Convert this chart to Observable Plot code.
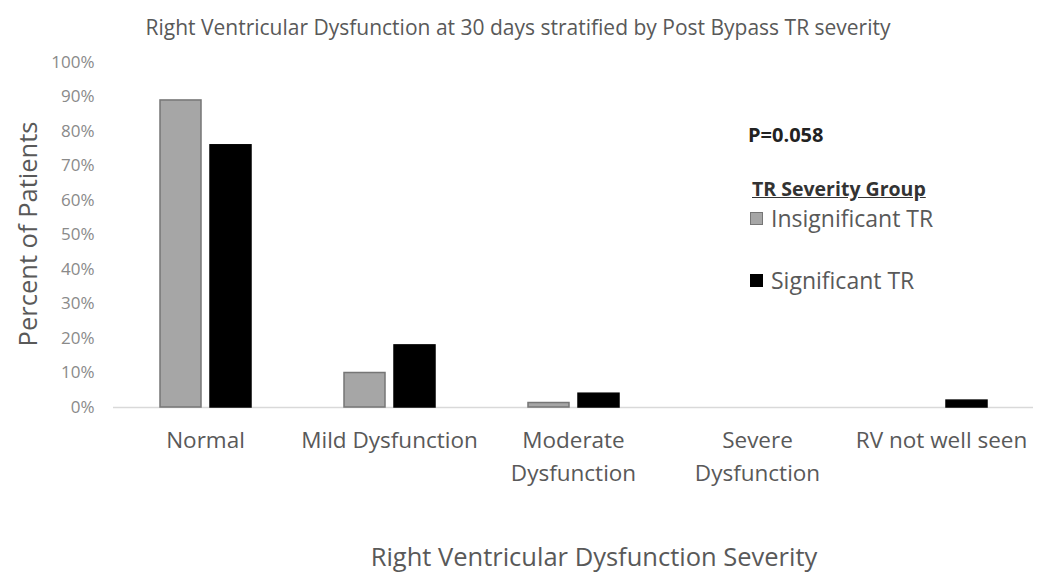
<!DOCTYPE html>
<html>
<head>
<meta charset="utf-8">
<script src="https://cdn.jsdelivr.net/npm/d3@7"></script>
<script src="https://cdn.jsdelivr.net/npm/@observablehq/plot@0.6"></script>
<style>
  html, body { margin: 0; padding: 0; background: #fff; }
  #wrap { position: relative; width: 1050px; height: 585px; font-family: "Open Sans", Lato, sans-serif; }
  #wrap svg { position: absolute; left: 0; top: 0; }
  .t { position: absolute; white-space: nowrap; color: #595959; line-height: 1; }
  #title { left: 0; width: 1036px; top: 17px; text-align: center; font-size: 21px; }
  #ylab { left: 28px; top: 234px; font-size: 25.5px; transform: translate(-50%, -50%) rotate(-90deg); }
  #xlab { left: 0; width: 1188px; top: 544px; text-align: center; font-size: 25.5px; }
  #pval { left: 748px; top: 125px; font-size: 20px; font-weight: bold; color: #222; }
  #lgtitle { left: 752px; top: 179px; font-size: 19.5px; font-weight: bold; color: #333; text-decoration: underline; }
  .lg { position: absolute; left: 750px; display: flex; align-items: center; font-size: 23px; color: #595959; white-space: nowrap; line-height: 1; }
  .sw { width: 13px; height: 13px; margin-right: 8px; box-sizing: border-box; }
</style>
</head>
<body>
<div id="wrap"></div>
<script>
const categories = ["Normal", "Mild Dysfunction", "Moderate\nDysfunction", "Severe\nDysfunction", "RV not well seen"];
const groups = ["Insignificant TR", "Significant TR"];
const insignificantTR = [0.89, 0.10, 0.013, 0, 0];
const significantTR = [0.76, 0.18, 0.04, 0, 0.02];
const yTicks = [0, 0.1, 0.2, 0.3, 0.4, 0.5, 0.6, 0.7, 0.8, 0.9, 1.0];
const groupFill = ["#a6a6a6", "#000000"];
const groupStroke = ["#767676", "#000000"];
const titleText = "Right Ventricular Dysfunction at 30 days stratified by Post Bypass TR severity";
const yLabel = "Percent of Patients";
const xLabel = "Right Ventricular Dysfunction Severity";
const pValue = "P=0.058";
const legendTitle = "TR Severity Group";

const rows = [];
categories.forEach((c, i) => {
  rows.push({category: c, group: groups[0], value: insignificantTR[i]});
  rows.push({category: c, group: groups[1], value: significantTR[i]});
});

const chart = Plot.plot({
  width: 1050,
  height: 585,
  marginTop: 62,
  marginBottom: 178,
  marginLeft: 112,
  marginRight: 17,
  style: {fontFamily: "'Open Sans', Lato, sans-serif", background: "transparent"},
  fx: {domain: categories, padding: 0, label: null},
  x: {domain: groups, paddingInner: 0.18, paddingOuter: 0.9, axis: null},
  y: {domain: [0, 1], label: null, axis: null},
  color: {domain: groups, range: groupFill},
  marks: [
    Plot.axisY({ticks: yTicks, tickFormat: d => Math.round(d * 100) + "%", tickSize: 0, tickPadding: 19, fontSize: 17, color: "#8a8a8a", label: null}),
    Plot.axisFx({anchor: "bottom", tickSize: 0, tickPadding: 17, fontSize: 22.5, lineHeight: 1.47, color: "#595959", label: null}),
    Plot.ruleY([0], {stroke: "#d9d9d9", strokeWidth: 1.5}),
    Plot.barY(rows, {fx: "category", x: "group", y: "value", fill: "group",
      stroke: d => groupStroke[groups.indexOf(d.group)], strokeWidth: 1.5})
  ]
});

const wrap = document.getElementById("wrap");
wrap.appendChild(chart);
function addText(id, text) {
  const d = document.createElement("div");
  d.className = "t"; d.id = id; d.textContent = text;
  wrap.appendChild(d);
}
addText("title", titleText);
addText("ylab", yLabel);
addText("xlab", xLabel);
addText("pval", pValue);
addText("lgtitle", legendTitle);
const legendTops = [207, 269];
groups.forEach((g, i) => {
  const item = document.createElement("div");
  item.className = "lg";
  item.style.top = legendTops[i] + "px";
  const sw = document.createElement("div");
  sw.className = "sw";
  sw.style.background = groupFill[i];
  sw.style.border = "1.5px solid " + groupStroke[i];
  const lbl = document.createElement("span");
  lbl.textContent = g;
  item.appendChild(sw); item.appendChild(lbl);
  wrap.appendChild(item);
});
</script>
</body>
</html>
